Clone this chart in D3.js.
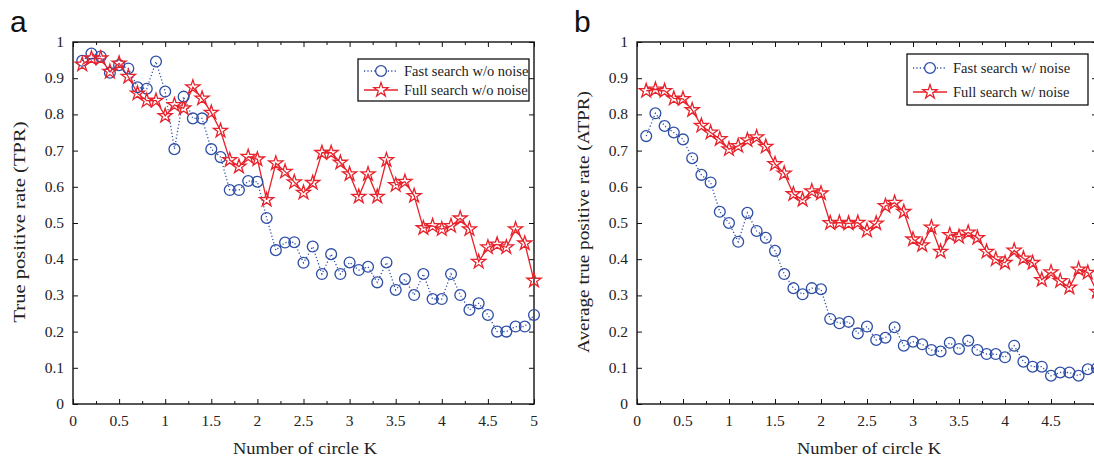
<!DOCTYPE html>
<html>
<head>
<meta charset="utf-8">
<script src="https://cdn.jsdelivr.net/npm/d3@7"></script>
<style>
  body { margin: 0; background: #fff; }
  svg { display: block; }
  text { font-family: "Liberation Serif", "Times New Roman", serif; fill: #222; }
</style>
</head>
<body>
<div id="chart"></div>
<script>
// circle number K (x positions shared by both panels)
const kValues = [0.1,0.2,0.3,0.4,0.5,0.6,0.7,0.8,0.9,1.0,
  1.1,1.2,1.3,1.4,1.5,1.6,1.7,1.8,1.9,2.0,
  2.1,2.2,2.3,2.4,2.5,2.6,2.7,2.8,2.9,3.0,
  3.1,3.2,3.3,3.4,3.5,3.6,3.7,3.8,3.9,4.0,
  4.1,4.2,4.3,4.4,4.5,4.6,4.7,4.8,4.9,5.0];

// panel a
const fastNoNoise = [0.948,0.968,0.960,0.915,0.936,0.927,0.875,0.871,0.946,0.863,
  0.704,0.849,0.789,0.789,0.704,0.682,0.591,0.591,0.616,0.614,
  0.514,0.425,0.446,0.447,0.390,0.435,0.359,0.414,0.359,0.391,
  0.370,0.379,0.336,0.391,0.315,0.345,0.301,0.359,0.290,0.290,
  0.359,0.301,0.260,0.278,0.246,0.200,0.200,0.214,0.214,0.246];
const fullNoNoise = [0.938,0.955,0.955,0.918,0.941,0.904,0.858,0.838,0.838,0.796,
  0.826,0.817,0.875,0.844,0.805,0.755,0.674,0.656,0.683,0.676,
  0.564,0.665,0.642,0.613,0.584,0.611,0.694,0.694,0.667,0.635,
  0.573,0.635,0.573,0.674,0.605,0.614,0.575,0.486,0.492,0.483,
  0.492,0.513,0.483,0.393,0.433,0.441,0.433,0.483,0.444,0.341];

// panel b
const fastNoise = [0.740,0.803,0.768,0.750,0.731,0.679,0.633,0.612,0.531,0.500,
  0.448,0.528,0.478,0.459,0.423,0.359,0.320,0.303,0.320,0.317,
  0.235,0.223,0.227,0.195,0.214,0.177,0.183,0.212,0.161,0.172,
  0.165,0.149,0.145,0.169,0.152,0.175,0.149,0.138,0.138,0.129,
  0.161,0.117,0.103,0.103,0.078,0.087,0.087,0.078,0.096,0.099];
const fullNoise = [0.865,0.869,0.865,0.844,0.843,0.812,0.769,0.750,0.732,0.704,
  0.713,0.729,0.737,0.711,0.663,0.637,0.580,0.564,0.588,0.582,
  0.500,0.501,0.499,0.501,0.479,0.499,0.547,0.556,0.531,0.455,
  0.439,0.488,0.421,0.467,0.462,0.474,0.459,0.421,0.400,0.390,
  0.424,0.402,0.390,0.343,0.364,0.340,0.322,0.372,0.363,0.310];

const xTicks = [0,0.5,1,1.5,2,2.5,3,3.5,4,4.5,5];
const xMinor = [0.25,0.75,1.25,1.75,2.25,2.75,3.25,3.75,4.25,4.75];
const yTicks = [0,0.1,0.2,0.3,0.4,0.5,0.6,0.7,0.8,0.9,1];

const BLUE = '#2d4ea6', RED = '#e8222b';
const W = 1094, H = 459;

const svg = d3.select('#chart').append('svg').attr('width', W).attr('height', H);
const star = d3.symbol().type(d3.symbolStar).size(62);

function drawPanel(p) {
  const x = d3.scaleLinear().domain([0, 5]).range([p.left, p.right]);
  const y = d3.scaleLinear().domain([0, 1]).range([404, 42]);
  const g = svg.append('g');

  // inward ticks on all four sides
  const tk = (axis, sel, size) => g.append('g').attr('transform', sel).call(axis.tickSize(size).tickFormat(''))
    .call(s => s.select('.domain').remove()).selectAll('line').attr('stroke', '#111').attr('stroke-width', 1);
  tk(d3.axisTop(x).tickValues(xTicks), `translate(0,${y(0)})`, 5);
  tk(d3.axisTop(x).tickValues(xMinor), `translate(0,${y(0)})`, 3);
  tk(d3.axisBottom(x).tickValues(xTicks), `translate(0,${y(1)})`, 5);
  tk(d3.axisBottom(x).tickValues(xMinor), `translate(0,${y(1)})`, 3);
  tk(d3.axisRight(y).tickValues(yTicks), `translate(${x(0)},0)`, 5);
  tk(d3.axisLeft(y).tickValues(yTicks), `translate(${x(5)},0)`, 5);

  g.append('rect').attr('x', x(0)).attr('y', y(1)).attr('width', x(5) - x(0)).attr('height', y(0) - y(1))
    .attr('fill', 'none').attr('stroke', '#111').attr('stroke-width', 1.4);

  // tick labels (the ones past the page edge are not shown in the figure)
  g.append('g').selectAll('text').data(xTicks.filter(d => x(d) + 5 < W)).join('text')
    .attr('x', d => x(d)).attr('y', 426).attr('text-anchor', 'middle').style('font-size', '15.5px')
    .text(d => d3.format('~g')(d));
  g.append('g').selectAll('text').data(yTicks).join('text')
    .attr('x', x(0) - 9).attr('y', d => y(d) + 5).attr('text-anchor', 'end').style('font-size', '15.5px')
    .text(d => d3.format('~g')(d));

  // titles
  g.append('text').attr('x', x(0) + 232).attr('y', 454).attr('text-anchor', 'middle')
    .attr('textLength', 144).attr('lengthAdjust', 'spacingAndGlyphs').style('font-size', '16.5px')
    .text('Number of circle K');
  g.append('text').attr('transform', `translate(${p.left - 48},${p.yTitleY}) rotate(-90)`)
    .attr('text-anchor', 'middle').attr('textLength', p.yTitleLen).attr('lengthAdjust', 'spacingAndGlyphs')
    .style('font-size', '16.5px').text(p.yTitle);
  svg.append('text').attr('x', p.left - 63).attr('y', 32).style('font-family', '"Liberation Sans", Arial, sans-serif')
    .style('font-size', '30px').style('fill', '#111').text(p.label);

  // series
  const pts = vals => kValues.map((k, i) => [x(k), y(vals[i])]);
  const fast = pts(p.fast), full = pts(p.full);
  g.append('path').attr('d', d3.line()(fast)).attr('fill', 'none').attr('stroke', BLUE)
    .attr('stroke-width', 1.3).attr('stroke-dasharray', '1.2,2.2');
  g.append('path').attr('d', d3.line()(full)).attr('fill', 'none').attr('stroke', RED).attr('stroke-width', 1.3);
  g.append('g').selectAll('circle').data(fast).join('circle')
    .attr('cx', d => d[0]).attr('cy', d => d[1]).attr('r', 5.4)
    .attr('fill', 'none').attr('stroke', BLUE).attr('stroke-width', 1.3);
  g.append('g').selectAll('path').data(full).join('path')
    .attr('transform', d => `translate(${d[0]},${d[1]})`).attr('d', star)
    .attr('fill', 'none').attr('stroke', RED).attr('stroke-width', 1.3);

  // legend
  const L = p.legend;
  const lg = svg.append('g').attr('transform', `translate(${L.x},${L.y})`);
  lg.append('rect').attr('width', L.w).attr('height', L.h).attr('fill', '#fff')
    .attr('stroke', '#111').attr('stroke-width', 1.3);
  const rows = [
    { name: p.names[0], color: BLUE, dash: '1.2,2.2', mark: 'circle' },
    { name: p.names[1], color: RED, dash: null, mark: 'star' }
  ];
  rows.forEach((r, i) => {
    const cy = L.row0 + i * L.gap;
    lg.append('line').attr('x1', 6).attr('x2', 40).attr('y1', cy).attr('y2', cy)
      .attr('stroke', r.color).attr('stroke-width', 1.3).attr('stroke-dasharray', r.dash);
    if (r.mark === 'circle') {
      lg.append('circle').attr('cx', 23).attr('cy', cy).attr('r', 5.4)
        .attr('fill', '#fff').attr('stroke', r.color).attr('stroke-width', 1.3);
    } else {
      lg.append('path').attr('transform', `translate(23,${cy})`).attr('d', star)
        .attr('fill', '#fff').attr('stroke', r.color).attr('stroke-width', 1.3);
    }
    lg.append('text').attr('x', 46).attr('y', cy + 5).style('font-size', '14.5px').text(r.name);
  });
}

drawPanel({
  left: 73, right: 534, label: 'a',
  yTitle: 'True positive rate (TPR)', yTitleY: 222, yTitleLen: 201,
  fast: fastNoNoise, full: fullNoNoise,
  names: ['Fast search w/o noise', 'Full search w/o noise'],
  legend: { x: 358, y: 59, w: 171, h: 42, row0: 12, gap: 19 }
});
drawPanel({
  left: 637, right: 1097, label: 'b',
  yTitle: 'Average true positive rate (ATPR)', yTitleY: 222, yTitleLen: 262,
  fast: fastNoise, full: fullNoise,
  names: ['Fast search w/ noise', 'Full search w/ noise'],
  legend: { x: 907, y: 54, w: 181, h: 51, row0: 14, gap: 24 }
});
</script>
</body>
</html>
